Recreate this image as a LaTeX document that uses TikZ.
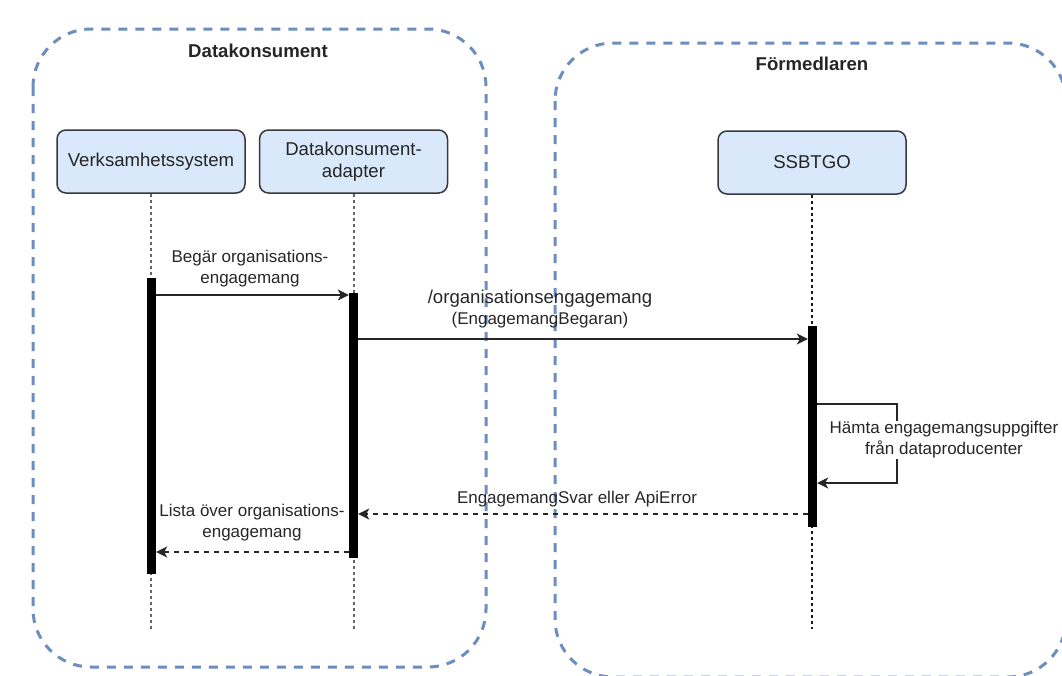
\documentclass[tikz,border=0pt]{standalone}
\usepackage{fontspec}
\setmainfont{Liberation Sans}
\usetikzlibrary{arrows.meta}

\definecolor{boxblue}{HTML}{DAE8FC}
\definecolor{boxline}{HTML}{36393D}
\definecolor{groupline}{HTML}{6C8EBF}

\tikzset{
  group/.style={draw=groupline, line width=3pt, dash pattern=on 9pt off 8pt, rounded corners=58pt},
  grouptitle/.style={font=\fontsize{18.6}{22}\selectfont\bfseries, text=black!85},
  actor/.style={draw=boxline, fill=boxblue, line width=1.5pt, rounded corners=9pt, minimum width=188pt, minimum height=63pt, align=center, font=\fontsize{18.6}{22}\selectfont, text=black!85},
  lifeline/.style={black!60, line width=2pt, dash pattern=on 3pt off 3pt},
  activation/.style={fill=black, draw=none, minimum width=9pt, inner sep=0pt},
  msg/.style={black!85, line width=1.4pt, -{Stealth[length=11pt,width=11pt,inset=3pt]}},
  reply/.style={msg, dash pattern=on 5pt off 5pt},
  msglabel/.style={align=center, font=\fontsize{17}{21}\selectfont, text=black!85, inner sep=1pt},
}

\begin{document}
\begin{tikzpicture}[x=1pt,y=-1pt]

\useasboundingbox (0,0) rectangle (1062,675);
\clip (0,0) rectangle (1062,675);

	%%% groups
    \draw[group] (33,29) rectangle (486,667);
    \draw[group] (555,43) rectangle (1066,677);
    \node[grouptitle] (dkTitle) at (258,51) {Datakonsument};
    \node[grouptitle] (fmTitle) at (812,64) {Förmedlaren};

	%%% actors
    \node[actor] (vs) at (151,161.5) {Verksamhetssystem};
    \node[actor] (da) at (353.5,161.5) {Datakonsument-\\adapter};
    \node[actor] (ss) at (812,162.5) {SSBTGO};

    \coordinate (end) at (0,629);
    \draw[lifeline] (vs.south) -- (vs.south |- end);
    \draw[lifeline] (da.south) -- (da.south |- end);
    \draw[lifeline, black!90, line width=1.5pt] (ss.south) -- (ss.south |- end);

	%%% activations
    \node[activation, minimum height=296pt] (barV) at (151.5,426) {};
    \node[activation, minimum height=265pt] (barA) at (353.5,425.5) {};
    \node[activation, minimum height=201pt] (barS) at (812.5,426.5) {};

	%%% messages
    \coordinate (r1) at (0,295);
    \coordinate (r2) at (0,339);
    \coordinate (r3) at (0,404);
    \coordinate (r4) at (0,483);
    \coordinate (r5) at (0,514);
    \coordinate (r6) at (0,552);
    \coordinate (loop) at (897,0);

    \draw[msg] (barV.east |- r1) -- (barA.west |- r1);
    \node[msglabel] (m1) at (250,269) {Begär organisations-\\engagemang};

    \draw[msg] (barA.east |- r2) -- (barS.west |- r2);
    \node[msglabel] (m2) at (540,309) {{\fontsize{18.6}{22}\selectfont /organisationsengagemang}\\(EngagemangBegaran)};

    \draw[msg] (barS.east |- r3) -- (loop |- r3) -- (loop |- r4) -- (barS.east |- r4);
    \node[msglabel, fill=white] (m3) at (944,440) {Hämta engagemangsuppgifter\\från dataproducenter};

    \draw[reply] (barS.west |- r5) -- (barA.east |- r5);
    \node[msglabel] (m4) at (577,499) {EngagemangSvar eller ApiError};

    \draw[reply] (barA.west |- r6) -- (barV.east |- r6);
    \node[msglabel] (m5) at (252,523) {Lista över organisations-\\engagemang};

\end{tikzpicture}
\end{document}
